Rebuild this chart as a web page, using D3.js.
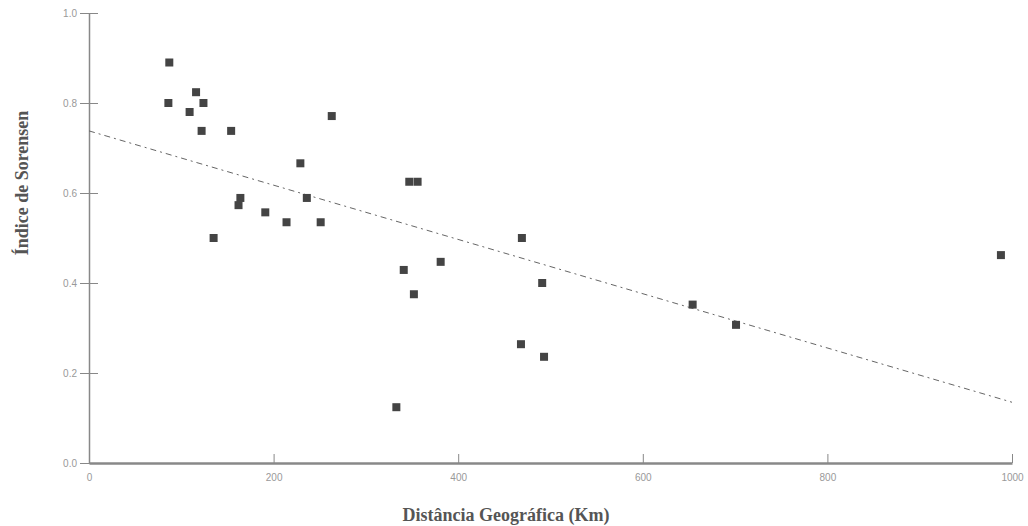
<!DOCTYPE html>
<html>
<head>
<meta charset="utf-8">
<script src="https://cdnjs.cloudflare.com/ajax/libs/d3/7.8.5/d3.min.js"></script>
<style>
body { margin: 0; background: #fff; }
.axis path, .axis line { stroke: #888; }
.axis text { fill: #999; font-family: "Liberation Sans", Arial, sans-serif; font-size: 10px; }
.label { font-family: "Liberation Serif", "Times New Roman", serif; font-weight: bold; font-size: 18px; fill: #555; }
</style>
</head>
<body>
<script>
//distance (km) and Sorensen index
var distancia = [87, 86, 116, 124, 109, 122, 154, 263, 135, 164, 162, 191, 214, 229, 236, 251,
                 347, 356, 341, 381, 352, 333, 469, 491, 468, 493, 654, 701, 988];
var sorensen = [0.89, 0.80, 0.824, 0.80, 0.78, 0.738, 0.738, 0.771, 0.50, 0.589, 0.573, 0.557, 0.535, 0.666, 0.589, 0.535,
                0.625, 0.625, 0.429, 0.447, 0.375, 0.124, 0.50, 0.40, 0.264, 0.236, 0.352, 0.307, 0.462];

//linear trend line endpoints (x, y)
var trendX = [0, 1000];
var trendY = [0.738, 0.135];

var xTicks = [0, 200, 400, 600, 800, 1000];
var yTicks = [0.0, 0.2, 0.4, 0.6, 0.8, 1.0];

var width = 1028,
    height = 526;

var svg = d3.select("body")
    .append("svg")
    .attr("width", width)
    .attr("height", height);

var x = d3.scaleLinear().domain([0, 1000]).range([89, 1012]);
var y = d3.scaleLinear().domain([0, 1]).range([463, 13]);

//y axis, ticks cross the line
var yAxis = svg.append("g")
    .attr("class", "axis")
    .attr("transform", "translate(89,0)")
    .call(d3.axisLeft(y).tickValues(yTicks).tickFormat(d3.format(".1f")).tickSize(9).tickSizeOuter(0));
yAxis.select(".domain").attr("stroke-width", 1.5);
yAxis.selectAll(".tick line").attr("x2", 9).attr("x1", -9).attr("stroke", "#aaa");
yAxis.selectAll(".tick text").attr("x", -12);

//x axis, ticks point up
var xAxis = svg.append("g")
    .attr("class", "axis")
    .attr("transform", "translate(0,463)")
    .call(d3.axisBottom(x).tickValues(xTicks).tickFormat(d3.format("d")).tickSize(-9).tickSizeOuter(0).tickPadding(11));
xAxis.select(".domain").attr("stroke-width", 2.5);
xAxis.selectAll(".tick line").attr("stroke", "#777");

//trend line
svg.append("line")
    .attr("x1", x(trendX[0]))
    .attr("y1", y(trendY[0]))
    .attr("x2", x(trendX[1]))
    .attr("y2", y(trendY[1]))
    .attr("stroke", "#666")
    .attr("stroke-width", 1)
    .attr("stroke-dasharray", "6,4,2,4");

//points
svg.selectAll(".pt")
    .data(distancia)
    .enter()
    .append("rect")
    .attr("class", "pt")
    .attr("x", function(d){ return x(d) - 4; })
    .attr("y", function(d, i){ return y(sorensen[i]) - 4; })
    .attr("width", 8)
    .attr("height", 8)
    .attr("fill", "#444");

//axis titles
svg.append("text")
    .attr("class", "label")
    .attr("x", 506)
    .attr("y", 521)
    .attr("text-anchor", "middle")
    .text("Distância Geográfica (Km)");

svg.append("text")
    .attr("class", "label")
    .attr("transform", "translate(28,183) rotate(-90)")
    .attr("text-anchor", "middle")
    .text("Índice de Sorensen");
</script>
</body>
</html>
